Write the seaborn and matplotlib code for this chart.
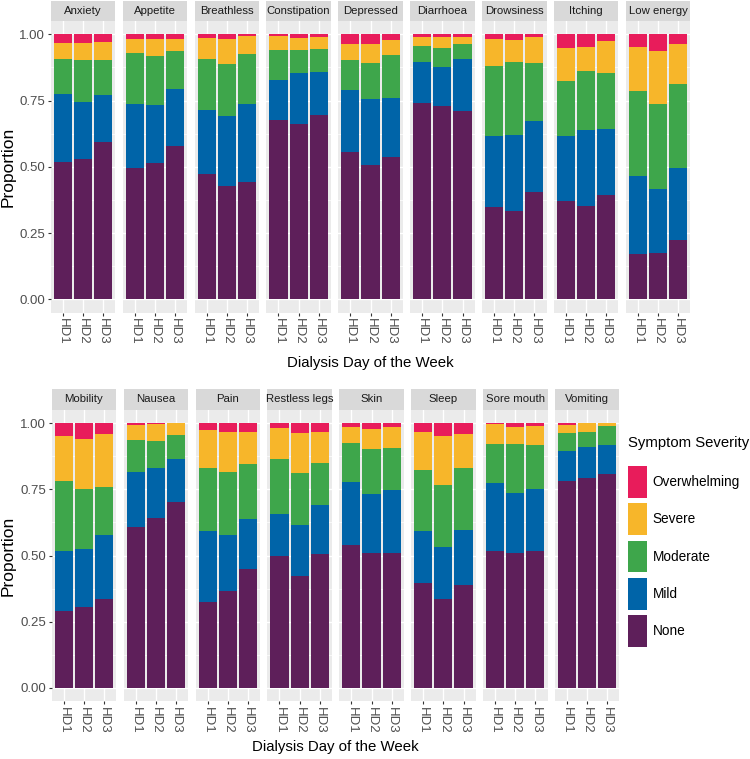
import pandas as pd
import matplotlib
matplotlib.use("Agg")
import matplotlib.pyplot as plt
from matplotlib.patches import Patch, Rectangle
from matplotlib.legend_handler import HandlerPatch
from matplotlib.ticker import MultipleLocator
import seaborn as sns

plt.rcParams['font.family'] = ['Liberation Sans', 'DejaVu Sans']

# Данные: доля пациентов по степени выраженности симптома, день диализа HD1..HD3
symptoms = ["Anxiety", "Appetite", "Breathless", "Constipation", "Depressed", "Diarrhoea",
            "Drowsiness", "Itching", "Low energy",
            "Mobility", "Nausea", "Pain", "Restless legs", "Skin", "Sleep", "Sore mouth", "Vomiting"]
days = ["HD1", "HD2", "HD3"]
levels = ["None", "Mild", "Moderate", "Severe", "Overwhelming"]

none = [[0.517, 0.531, 0.594], [0.494, 0.513, 0.580], [0.473, 0.428, 0.444],
        [0.675, 0.662, 0.697], [0.556, 0.506, 0.537], [0.741, 0.730, 0.711],
        [0.347, 0.335, 0.406], [0.372, 0.353, 0.395], [0.171, 0.174, 0.224],
        [0.289, 0.306, 0.335], [0.607, 0.643, 0.702], [0.325, 0.366, 0.449],
        [0.498, 0.424, 0.504], [0.538, 0.508, 0.511], [0.397, 0.337, 0.390],
        [0.517, 0.509, 0.517], [0.782, 0.794, 0.808]]
mild = [[0.258, 0.212, 0.176], [0.243, 0.220, 0.214], [0.241, 0.264, 0.294],
        [0.154, 0.190, 0.162], [0.234, 0.250, 0.224], [0.155, 0.147, 0.195],
        [0.271, 0.286, 0.267], [0.246, 0.286, 0.247], [0.294, 0.241, 0.272],
        [0.227, 0.220, 0.241], [0.210, 0.189, 0.161], [0.269, 0.210, 0.190],
        [0.160, 0.191, 0.187], [0.238, 0.223, 0.237], [0.196, 0.196, 0.208],
        [0.257, 0.229, 0.235], [0.112, 0.118, 0.110]]
moderate = [[0.132, 0.160, 0.132], [0.191, 0.185, 0.141], [0.192, 0.197, 0.187],
            [0.112, 0.089, 0.086], [0.112, 0.136, 0.161], [0.060, 0.071, 0.059],
            [0.263, 0.275, 0.220], [0.207, 0.221, 0.212], [0.322, 0.322, 0.318],
            [0.266, 0.226, 0.182], [0.120, 0.101, 0.093], [0.237, 0.240, 0.208],
            [0.207, 0.198, 0.158], [0.151, 0.173, 0.159], [0.230, 0.232, 0.233],
            [0.149, 0.185, 0.165], [0.068, 0.056, 0.071]]
severe = [[0.059, 0.063, 0.067], [0.054, 0.064, 0.046], [0.080, 0.093, 0.070],
          [0.053, 0.046, 0.046], [0.063, 0.070, 0.057], [0.033, 0.043, 0.024],
          [0.100, 0.083, 0.096], [0.125, 0.092, 0.122], [0.165, 0.198, 0.150],
          [0.171, 0.187, 0.200], [0.057, 0.063, 0.044], [0.143, 0.150, 0.119],
          [0.116, 0.149, 0.119], [0.057, 0.073, 0.079], [0.142, 0.186, 0.127],
          [0.074, 0.061, 0.072], [0.033, 0.031, 0.011]]
overwhelming = [[0.034, 0.034, 0.031], [0.018, 0.018, 0.019], [0.014, 0.018, 0.005],
                [0.006, 0.013, 0.009], [0.035, 0.038, 0.021], [0.011, 0.009, 0.011],
                [0.019, 0.021, 0.011], [0.050, 0.048, 0.024], [0.048, 0.065, 0.036],
                [0.047, 0.061, 0.042], [0.006, 0.004, 0.000], [0.026, 0.034, 0.034],
                [0.019, 0.038, 0.032], [0.016, 0.023, 0.014], [0.035, 0.049, 0.042],
                [0.003, 0.016, 0.011], [0.005, 0.001, 0.000]]

palette = {"None": "#5E1F5A", "Mild": "#0064A8", "Moderate": "#3EA64B",
           "Severe": "#F7B62A", "Overwhelming": "#E81C5B"}

# Длинная таблица + накопленные значения для стека
rows = []
for i, s in enumerate(symptoms):
    for j, d in enumerate(days):
        vals = [none[i][j], mild[i][j], moderate[i][j], severe[i][j], overwhelming[i][j]]
        for lvl, v in zip(levels, vals):
            rows.append({"symptom": s, "day": d, "level": lvl, "prop": v})
df = pd.DataFrame(rows)
df["top"] = df.groupby(["symptom", "day"])["prop"].cumsum()

W, H = 750, 759
fig = plt.figure(figsize=(W / 100, H / 100), dpi=100)

panel_w = 64.4
pitch = 71.9
# (первый симптом ряда, кол-во панелей, верх стрипа, верх панели, низ панели, левый край) в пикселях
row_specs = [(0, 9, 1.0, 21.0, 312.6, 50.7), (9, 8, 388.5, 410.0, 701.0, 51.7)]

for start, n, strip_top, p_top, p_bot, x0 in row_specs:
    for k in range(n):
        s = symptoms[start + k]
        left = x0 + k * pitch
        ax = fig.add_axes([left / W, 1 - p_bot / H, panel_w / W, (p_bot - p_top) / H])
        sub = df[df["symptom"] == s]
        for lvl in reversed(levels):
            d = sub[sub["level"] == lvl]
            sns.barplot(data=d, x="day", y="top", order=days, color=palette[lvl],
                        width=0.9, saturation=1, linewidth=0, errorbar=None, ax=ax)
        ax.set_facecolor("#EBEBEB")
        ax.set_axisbelow(True)
        ax.set_xlim(-0.6, 2.6)
        ax.set_ylim(-0.05, 1.05)
        ax.set_yticks([0, 0.25, 0.5, 0.75, 1.0])
        ax.yaxis.set_minor_locator(MultipleLocator(0.125))
        ax.grid(which="major", color="white", linewidth=1.0)
        ax.grid(which="minor", axis="y", color="white", linewidth=0.5)
        for sp in ax.spines.values():
            sp.set_visible(False)
        ax.set_xlabel("")
        ax.set_ylabel("")
        ax.tick_params(axis="x", length=2.5, width=0.8, color="#333333",
                       labelsize=9.5, labelcolor="#4D4D4D", pad=1.5)
        ax.tick_params(axis="y", which="minor", length=0)
        plt.setp(ax.get_xticklabels(), rotation=270, ha="center", va="top")
        if k == 0:
            ax.set_yticklabels(["0.00", "0.25", "0.50", "0.75", "1.00"])
            ax.tick_params(axis="y", which="major", length=2.5, width=0.8, color="#333333",
                           labelsize=9.5, labelcolor="#4D4D4D", pad=1.5)
        else:
            ax.tick_params(axis="y", which="major", length=0, labelleft=False)

        # стрип с названием симптома
        sax = fig.add_axes([left / W, 1 - p_top / H, panel_w / W, (p_top - strip_top) / H])
        sax.set_facecolor("#D9D9D9")
        sax.set_xticks([])
        sax.set_yticks([])
        for sp in sax.spines.values():
            sp.set_visible(False)
        sax.text(0.5, 0.5, s, ha="center", va="center", fontsize=8.2, color="#1A1A1A",
                 transform=sax.transAxes)

    # подписи осей
    mid_y = 1 - ((p_top + p_bot) / 2) / H
    fig.text(8 / W, mid_y, "Proportion", rotation=90, ha="center", va="center",
             fontsize=12.5, color="black")
    x_mid = (x0 + (n - 1) * pitch + panel_w + x0) / 2
    lab_y = 363 if start == 0 else 747
    fig.text(x_mid / W, 1 - lab_y / H, "Dialysis Day of the Week", ha="center",
             va="center", fontsize=10.8, color="black")


# ключи легенды повыше, как в ggplot
def tall_key(legend, orig_handle, xdescent, ydescent, width, height, fontsize):
    ext = 2.9
    return Rectangle((-xdescent, -ydescent - ext), width, height + 2 * ext)


handles = [Patch(facecolor=palette[l], edgecolor="none") for l in reversed(levels)]
fig.text(628 / W, 1 - 443 / H, "Symptom Severity", ha="left", va="center",
         fontsize=10.7, color="black")
fig.legend(handles, list(reversed(levels)), loc="upper left",
           bbox_to_anchor=(628 / W, 1 - 470 / H), frameon=False,
           fontsize=9.8, handlelength=1.4, handleheight=2.3,
           labelspacing=1.0, handletextpad=0.4, borderpad=0, borderaxespad=0,
           handler_map={Patch: HandlerPatch(patch_func=tall_key)})

plt.savefig("out.png", dpi=100)
plt.close()
